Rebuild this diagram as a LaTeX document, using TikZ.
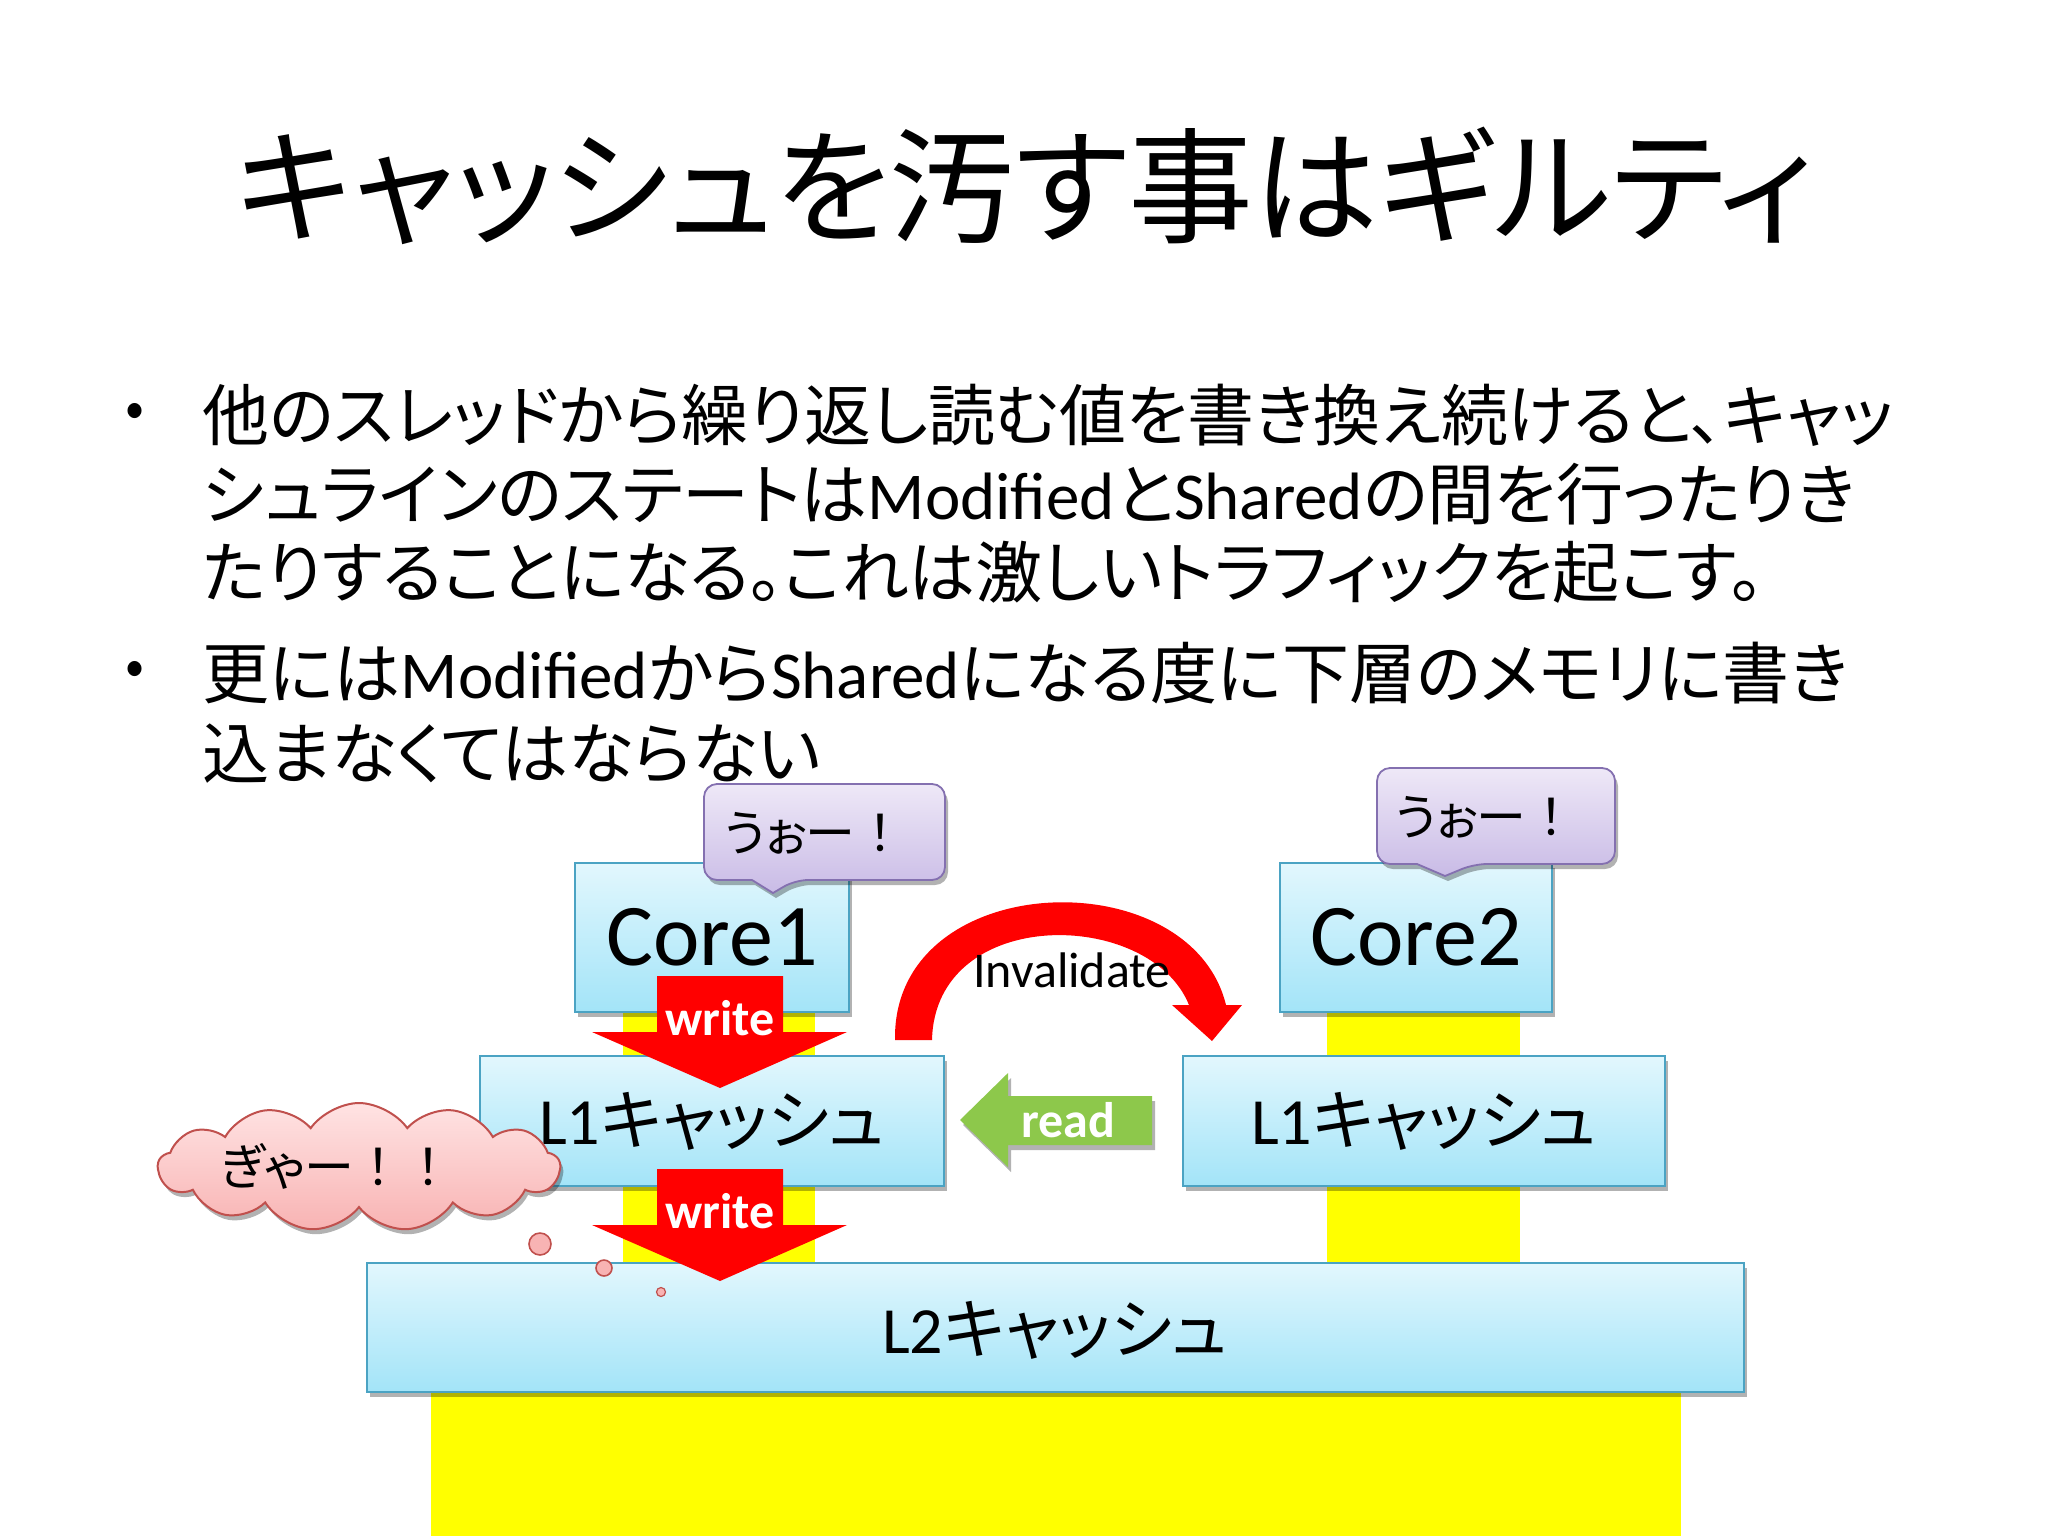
\documentclass[tikz,border=0pt]{standalone}
\usepackage{fontspec}
\setmainfont{Noto Sans CJK JP}[RawFeature=+palt]
\newfontfamily\fw{Noto Sans CJK JP}
\newfontfamily\lat{Carlito}
\usetikzlibrary{shapes.symbols,shadows}
\definecolor{boxtop}{HTML}{E2F7FD}
\definecolor{boxbot}{HTML}{A3E4F8}
\definecolor{boxline}{HTML}{4BA3C3}
\definecolor{ylw}{HTML}{FFFF00}
\definecolor{wred}{HTML}{FF0000}
\definecolor{rgreen}{HTML}{8DC84B}
\definecolor{bubtop}{HTML}{EEE8F7}
\definecolor{bubbot}{HTML}{C9BBE6}
\definecolor{bubline}{HTML}{8470B0}
\definecolor{cldtop}{HTML}{FFE3E3}
\definecolor{cldbot}{HTML}{F8B3B3}
\definecolor{cldline}{HTML}{C0504D}
\tikzset{
  shad/.style={drop shadow={shadow xshift=1.5pt,shadow yshift=-2.5pt,opacity=0.3,fill=black}},
  cachebox/.style={draw=boxline,line width=0.9pt,top color=boxtop,bottom color=boxbot,shad,inner sep=0pt},
  bubble/.style={draw=bubline,line width=0.9pt,top color=bubtop,bottom color=bubbot,shad},
  wtext/.style={text=white,font=\lat\bfseries\fontsize{25pt}{28pt}\selectfont,inner sep=0pt},
  line/.style={anchor=west,inner sep=0pt,font=\fontsize{33.5pt}{38pt}\selectfont},
  bul/.style={inner sep=0pt,font=\fontsize{28pt}{32pt}\selectfont},
  say/.style={inner sep=0pt,font=\fontsize{25pt}{30pt}\selectfont},
  boxtext/.style={inner sep=0pt,font=\fontsize{33pt}{38pt}\selectfont},
  coretext/.style={inner sep=0pt,font=\lat\fontsize{44pt}{50pt}\selectfont},
}
\begin{document}
\begin{tikzpicture}[x=0.5pt,y=-0.5pt]
\useasboundingbox[fill=white] (0,0) rectangle (2048,1536);
% title
\node[inner sep=0pt,font=\fontsize{62.5pt}{70pt}\selectfont] (title) at (1025,186) {キャッシュを汚す事はギルティ};
% bullets
\node[bul] (b1) at (135,415) {•};
\node[line] (l1) at (202,415) {他のスレッドから繰り返し読む値を書き換え続けると、キャッ};
\node[line] (l2) at (202,494) {シュラインのステートは{\lat Modified}と{\lat Shared}の間を行ったりき};
\node[line] (l3) at (202,572) {たりすることになる。これは激しいトラフィックを起こす。};
\node[bul] (b2) at (135,673) {•};
\node[line] (l4) at (202,673) {更には{\lat Modified}から{\lat Shared}になる度に下層のメモリに書き};
\node[line] (l5) at (202,754) {込まなくてはならない};
% yellow columns
\fill[ylw] (623,1000) rectangle (815,1270);
\fill[ylw] (1327,1000) rectangle (1520,1270);
\fill[ylw] (431,1380) rectangle (1681,1536);
% boxes
\node[cachebox,minimum width=137pt,minimum height=74.5pt] (core1) at (712,937.5) {};
\node[cachebox,minimum width=136pt,minimum height=74.5pt] (core2) at (1416,937.5) {};
\node[cachebox,minimum width=232pt,minimum height=65pt] (l1a) at (712,1121) {};
\node[cachebox,minimum width=241pt,minimum height=65pt] (l1b) at (1424,1121) {};
\node[cachebox,minimum width=688.5pt,minimum height=64.5pt] (l2) at (1055.5,1327.5) {};
\node[coretext] (t1) at (core1) {Core1};
\node[coretext] (t2) at (core2) {Core2};
\node[boxtext] (t3) at (712,1121) {{\lat L1}キャッシュ};
\node[boxtext] (t4) at (1424,1121) {{\lat L1}キャッシュ};
\node[boxtext] (t5) at (1055,1330) {{\lat L2}キャッシュ};
% write arrows
\fill[wred] (657,976) -- (783,976) -- (783,1032) -- (847,1032) -- (720,1088) -- (592,1032) -- (657,1032) -- cycle;
\node[wtext] (w1) at (720,1018) {write};
\fill[wred] (657,1169) -- (783,1169) -- (783,1225) -- (847,1225) -- (720,1281) -- (592,1225) -- (657,1225) -- cycle;
\node[wtext] (w2) at (720,1211) {write};
% read arrow
\fill[rgreen,shad] (1152,1096) -- (1152,1145) -- (1008,1145) -- (1008,1167) -- (960,1120) -- (1008,1073) -- (1008,1096) -- cycle;
\node[wtext] (rd) at (1068,1120) {read};
% invalidate arrow
\fill[wred] (895,1040) .. controls (892,868) and (1190,858) .. (1226,1005) -- (1242,1005) -- (1212,1041) -- (1172,1005) -- (1189,1005) .. controls (1150,908) and (935,905) .. (932,1040) -- cycle;
\node[inner sep=0pt,font=\lat\fontsize{25pt}{30pt}\selectfont] (inv) at (1072,970) {Invalidate};
% speech bubbles
\draw[bubble] (704,830) [rounded corners=6.5pt] -- (704,784) -- (945,784) -- (945,880) -- (795,880) [sharp corners] -- (773,893) -- (752,880) [rounded corners=6.5pt] -- (704,880) -- cycle;
\node[say] (s1) at (815,833) {うぉー{\fw ！}};
\draw[bubble] (1377,816) [rounded corners=6.5pt] -- (1377,768) -- (1615,768) -- (1615,864) -- (1474,864) [sharp corners] -- (1445,876) -- (1417,864) [rounded corners=6.5pt] -- (1377,864) -- cycle;
\node[say] (s2) at (1486,817) {うぉー{\fw ！}};
% cloud
\node[cloud,cloud puffs=13,cloud puff arc=110,cloud ignores aspect,draw=cldline,line width=1pt,top color=cldtop,bottom color=cldbot,shad,minimum width=201pt,minimum height=64pt,inner sep=0pt] (cld) at (359,1167) {};
\node[say] (ct) at (337,1166) {ぎゃー{\fw ！！}};
\node[circle,draw=cldline,line width=0.8pt,fill=cldbot,minimum size=11pt,inner sep=0pt] (c1) at (540,1244) {};
\node[circle,draw=cldline,line width=0.8pt,fill=cldbot,minimum size=8pt,inner sep=0pt] (c2) at (604,1268) {};
\node[circle,draw=cldline,line width=0.6pt,fill=cldbot,minimum size=4.5pt,inner sep=0pt] (c3) at (661,1292) {};
\end{tikzpicture}
\end{document}
